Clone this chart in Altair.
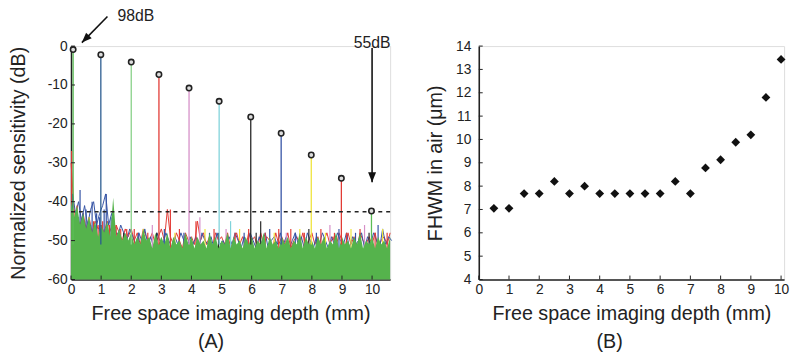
import altair as alt
import pandas as pd

FONT = "Liberation Sans"

# ---------------- Panel A data ----------------
depth_ticks = [0, 1, 2, 3, 4, 5, 6, 7, 8, 9, 10]
db_ticks = [-60, -50, -40, -30, -20, -10, 0]

peak_depth = [0.07, 0.99, 2.0, 2.92, 3.92, 4.92, 5.97, 6.98, 7.98, 8.98, 9.98]
peak_db = [-0.9, -2.2, -4.1, -7.3, -10.8, -14.2, -18.2, -22.4, -28.0, -34.0, -42.4]
peak_trace = ["green", "darkblue", "lightgreen", "red", "pink", "cyan",
              "black", "blue", "yellow", "red", "green"]

noise_step_mm = 0.1
# green (top-most) noise trace, upper envelope every 0.1 mm from 0
noise_floor_db = [
    -40, -44, -41, -46, -43, -47, -44, -48, -45, -49,
    -46, -48, -45, -49, -39, -49, -47, -50, -48, -50,
    -48, -51, -49, -51, -47, -50, -49, -52, -48, -51,
    -49, -51, -48, -52, -49, -51, -50, -52, -48, -51,
    -49, -52, -49, -51, -50, -52, -48, -51, -49, -52,
    -50, -51, -48, -52, -49, -51, -50, -52, -49, -51,
    -49, -52, -50, -51, -48, -52, -49, -51, -50, -52,
    -49, -51, -49, -52, -50, -51, -48, -52, -49, -51,
    -50, -52, -49, -51, -49, -52, -50, -51, -48, -52,
    -49, -51, -50, -52, -49, -51, -48, -52, -50, -51,
    -49, -52, -49, -51, -50, -52, -49,
]
# red noise trace, every 0.1 mm from 0
red_noise_db = [
    -30, -42, -44, -46, -43, -47, -44, -48, -45, -47,
    -46, -48, -45, -47, -49, -46, -48, -50, -47, -49,
    -47, -50, -48, -51, -47, -49, -50, -48, -51, -49,
    -47, -50, -42, -49, -51, -48, -50, -52, -48, -50,
    -49, -51, -45, -50, -48, -51, -49, -52, -48, -50,
    -49, -51, -48, -52, -50, -48, -51, -49, -52, -48,
    -50, -49, -52, -48, -51, -49, -50, -52, -48, -51,
    -49, -51, -48, -52, -50, -49, -51, -48, -52, -50,
    -48, -51, -49, -52, -50, -48, -51, -49, -52, -48,
    -50, -52, -48, -51, -49, -52, -48, -50, -51, -49,
    -51, -48, -52, -50, -49, -51, -48,
]
# blue noise trace, every 0.1 mm from 0.05
blue_noise_db = [
    -38, -43, -40, -45, -41, -46, -42, -40, -46, -43,
    -41, -38, -46, -43, -47, -49, -46, -48, -50, -47,
    -49, -51, -48, -50, -47, -51, -49, -52, -48, -50,
    -51, -48, -50, -52, -49, -51, -48, -50, -52, -49,
    -51, -49, -52, -48, -50, -51, -49, -52, -48, -51,
    -50, -52, -49, -51, -48, -50, -52, -49, -51, -48,
    -50, -52, -49, -51, -48, -52, -50, -49, -51, -48,
    -51, -49, -52, -50, -48, -51, -49, -52, -48, -50,
    -52, -49, -51, -48, -50, -52, -49, -51, -48, -50,
    -51, -48, -52, -49, -51, -50, -48, -52, -49, -51,
    -48, -50, -52, -47, -51, -49, -50,
]

spike_depth = [0.02, 0.05, 0.1, 0.15, 0.2, 0.25, 0.3, 0.35, 0.4, 0.45, 0.5, 0.55, 0.6, 0.65,
               0.7, 0.75, 0.8, 0.85, 0.9, 0.95, 1.05, 1.1, 1.17, 1.22, 1.28, 1.33, 1.38, 1.5,
               1.55, 1.65, 1.75, 1.85,
               2.1, 2.25, 2.4, 2.55, 2.7, 2.85, 3.1, 3.3, 3.45, 3.6, 3.75, 4.15, 4.28, 4.45,
               4.6, 4.75, 4.9, 5.15, 5.3, 5.45, 5.6, 5.75, 5.9, 6.15, 6.3, 6.45, 6.6, 6.75,
               6.9, 7.15, 7.3, 7.45, 7.6, 7.75, 7.9, 8.15, 8.3, 8.45, 8.6, 8.75, 8.9, 9.15,
               9.3, 9.45, 9.6, 9.75, 9.9, 10.1, 10.2, 10.35, 10.5]
spike_db = [-27, -38, -42, -45, -41, -44, -37, -46, -43, -45, -42, -47, -44, -46,
            -40, -45, -47, -43, -46, -44, -45, -42, -38, -46, -46, -44, -47, -46,
            -48, -47, -48, -47,
            -47, -48, -47, -48, -46, -48, -47, -42, -48, -47, -48, -45, -44, -47,
            -48, -47, -48, -47, -45, -48, -47, -48, -47, -48, -45, -48, -47, -48,
            -47, -48, -47, -48, -47, -48, -47, -48, -47, -48, -46, -48, -47, -48,
            -47, -48, -47, -46, -48, -48, -46, -47, -48]
spike_trace = ["red", "darkblue", "red", "blue", "red", "blue", "blue", "red", "blue", "red",
               "blue", "red", "yellow", "blue", "blue", "red", "black", "blue", "red", "blue",
               "red", "blue", "blue", "red", "red", "blue", "yellow", "red", "blue", "red",
               "black", "red",
               "red", "blue", "yellow", "red", "pink", "black", "blue", "red", "yellow", "red",
               "blue", "red", "pink", "yellow", "blue", "red", "black", "pink", "cyan", "red",
               "yellow", "blue", "red", "black", "black", "red", "blue", "yellow", "red", "pink",
               "red", "blue", "yellow", "red", "black", "blue", "red", "yellow", "pink", "red",
               "blue", "red", "yellow", "blue", "red", "pink", "black", "red", "blue", "yellow",
               "red"]

threshold_db = [-42.6]

# annotations (data units)
ann_text = ["98dB", "55dB"]
ann_depth = [1.54, 10.0]
ann_db = [7.6, 0.9]
arrow_from_depth = [1.21, 10.0]
arrow_from_db = [7.6, -0.5]
arrow_to_depth = [0.36, 10.0]
arrow_to_db = [0.9, -35.0]
arrow_angle = [225, 180]

# ---------------- Panel B data ----------------
fwhm_depth = [0.5, 1, 1.5, 2, 2.5, 3, 3.5, 4, 4.5, 5, 5.5, 6, 6.5, 7, 7.5, 8, 8.5, 9, 9.5, 10]
fwhm_um = [7.05, 7.05, 7.68, 7.68, 8.2, 7.68, 8.0, 7.68, 7.68, 7.68, 7.68, 7.68, 8.2, 7.68,
           8.78, 9.13, 9.88, 10.2, 11.8, 13.43]
fwhm_ticks = [4, 5, 6, 7, 8, 9, 10, 11, 12, 13, 14]

# ---------------- styling ----------------
palette = {
    "green": "#5bbd55", "darkblue": "#2a5b8f", "lightgreen": "#88d188", "red": "#e23b35",
    "pink": "#d68fc8", "cyan": "#80d3da", "black": "#262626", "blue": "#3553a5",
    "yellow": "#efe43a",
}
color_scale = alt.Scale(domain=list(palette.keys()), range=list(palette.values()))

WA, HA = 324, 237
WB, HB = 310, 237
xA = alt.Scale(domain=[0, 10.6], nice=False, zero=False)
yA = alt.Scale(domain=[-60, 0], nice=False)
xB = alt.Scale(domain=[0, 10.1], nice=False, zero=False)
yB = alt.Scale(domain=[4, 14], nice=False)

axis_common = dict(labelFont=FONT, labelFontSize=14, labelColor="#222", titleFont=FONT,
                   titleFontSize=20, titleFontWeight="normal", titleColor="#222",
                   domainColor="#222", domainWidth=1.6, ticks=False, grid=False,
                   labelOverlap=False, labelFlush=False)

axA_x = alt.Axis(values=depth_ticks, title="Free space imaging depth (mm)",
                 labelPadding=3, titlePadding=8, **axis_common)
axA_y = alt.Axis(values=db_ticks, title="Normalized sensitivity (dB)",
                 labelExpr="toString(datum.value)", labelPadding=4, titlePadding=19,
                 **axis_common)
axB_x = alt.Axis(values=depth_ticks, title="Free space imaging depth (mm)",
                 labelPadding=3, titlePadding=8, **axis_common)
axB_y = alt.Axis(values=fwhm_ticks, title="FHWM in air (\u03bcm)", labelPadding=8,
                 titlePadding=10, **axis_common)


def XA(f):
    return alt.X(f, scale=xA, axis=axA_x)


def YA(f):
    return alt.Y(f, scale=yA, axis=axA_y)


def XB(f):
    return alt.X(f, scale=xB, axis=axB_x)


def YB(f):
    return alt.Y(f, scale=yB, axis=axB_y)


# ---- panel A layers
red_df = pd.DataFrame({"d": [i * noise_step_mm for i in range(len(red_noise_db))],
                       "db": red_noise_db})
red_line = alt.Chart(red_df).mark_line(color=palette["red"], strokeWidth=1).encode(
    x=XA("d:Q"), y=YA("db:Q"))
blue_df = pd.DataFrame({"d": [0.05 + i * noise_step_mm for i in range(len(blue_noise_db))],
                        "db": blue_noise_db})
blue_line = alt.Chart(blue_df).mark_line(color=palette["blue"], strokeWidth=1).encode(
    x=XA("d:Q"), y=YA("db:Q"))

noise_df = pd.DataFrame({"d": [i * noise_step_mm for i in range(len(noise_floor_db))],
                         "db": noise_floor_db})
noise = alt.Chart(noise_df).mark_area(color="#55b34c", opacity=1).encode(
    x=XA("d:Q"), y=YA("db:Q"), y2=alt.datum(-60))

spike_df = pd.DataFrame({"d": spike_depth, "db": spike_db, "t": spike_trace})
spikes = alt.Chart(spike_df).mark_rule(strokeWidth=1.2).encode(
    x=XA("d:Q"), y=YA("db:Q"), y2=alt.datum(-54),
    color=alt.Color("t:N", scale=color_scale, legend=None),
)

peak_df = pd.DataFrame({"d": peak_depth, "db": peak_db, "t": peak_trace})
peak_lines = alt.Chart(peak_df).mark_rule(strokeWidth=1.3).encode(
    x=XA("d:Q"), y=YA("db:Q"), y2=alt.datum(-51),
    color=alt.Color("t:N", scale=color_scale, legend=None),
)
peak_pts = alt.Chart(peak_df).mark_point(shape="circle", size=30, filled=False,
                                         fill="#dddddd", fillOpacity=1, stroke="#222",
                                         strokeWidth=1.6, opacity=1).encode(
    x=XA("d:Q"), y=YA("db:Q"))

thr = alt.Chart(pd.DataFrame({"db": threshold_db})).mark_rule(
    color="#222", strokeWidth=1.4, strokeDash=[4, 4]).encode(
    y=YA("db:Q"), x=alt.value(0), x2=alt.value(WA))

tickA_x = alt.Chart(pd.DataFrame({"v": depth_ticks})).mark_rule(color="#222").encode(
    x=XA("v:Q"), y=alt.value(HA), y2=alt.value(HA - 4))
tickA_y = alt.Chart(pd.DataFrame({"v": db_ticks})).mark_rule(color="#222").encode(
    y=YA("v:Q"), x=alt.value(0), x2=alt.value(4))

arrow_df = pd.DataFrame({"x1": arrow_from_depth, "y1": arrow_from_db,
                         "x2": arrow_to_depth, "y2": arrow_to_db, "a": arrow_angle})
arrow_lines = alt.Chart(arrow_df).mark_rule(color="#111", strokeWidth=1.6).encode(
    x=XA("x1:Q"), y=YA("y1:Q"), x2="x2:Q", y2="y2:Q")
arrow_heads = alt.Chart(arrow_df).mark_point(
    shape="M0,0L-0.5,1.25L0.5,1.25Z", size=260, filled=True, color="#111", opacity=1).encode(
    x=XA("x2:Q"), y=YA("y2:Q"), angle=alt.Angle("a:Q", scale=None))

ann_df = pd.DataFrame({"d": ann_depth, "db": ann_db, "t": ann_text})
ann1 = alt.Chart(ann_df.iloc[[0]]).mark_text(font=FONT, fontSize=16, align="left",
                                             baseline="middle", color="#222").encode(
    x=XA("d:Q"), y=YA("db:Q"), text="t:N")
ann2 = alt.Chart(ann_df.iloc[[1]]).mark_text(font=FONT, fontSize=16, align="center",
                                             baseline="middle", color="#222").encode(
    x=XA("d:Q"), y=YA("db:Q"), text="t:N")

capA = alt.Chart(pd.DataFrame({"d": [4.65], "t": ["(A)"]})).mark_text(
    font=FONT, fontSize=20, baseline="middle", color="#222").encode(
    x=XA("d:Q"), y=alt.value(HA + 64), text="t:N")

panelA = alt.layer(red_line, blue_line, spikes, noise, peak_lines, thr, peak_pts,
                   tickA_x, tickA_y, arrow_lines, arrow_heads, ann1, ann2,
                   capA).properties(width=WA, height=HA)

# ---- panel B layers
fw_df = pd.DataFrame({"d": fwhm_depth, "f": fwhm_um})
pts = alt.Chart(fw_df).mark_point(shape="diamond", size=80, filled=True, color="#111",
                                  opacity=1).encode(x=XB("d:Q"), y=YB("f:Q"))
tickB_x = alt.Chart(pd.DataFrame({"v": depth_ticks})).mark_rule(color="#222").encode(
    x=XB("v:Q"), y=alt.value(HB), y2=alt.value(HB - 4))
tickB_y = alt.Chart(pd.DataFrame({"v": fwhm_ticks})).mark_rule(color="#222").encode(
    y=YB("v:Q"), x=alt.value(0), x2=alt.value(4))
capB = alt.Chart(pd.DataFrame({"d": [4.33], "t": ["(B)"]})).mark_text(
    font=FONT, fontSize=20, baseline="middle", color="#222").encode(
    x=XB("d:Q"), y=alt.value(HB + 64), text="t:N")

panelB = alt.layer(tickB_x, tickB_y, pts, capB).properties(width=WB, height=HB)

chart = alt.hconcat(panelA, panelB, spacing=30).properties(
    padding={"left": 0, "top": -3, "right": 0, "bottom": 0}
).configure_view(stroke=None).configure(background="white")

chart.save("out.html", embed_options={"renderer": "svg", "actions": False})
